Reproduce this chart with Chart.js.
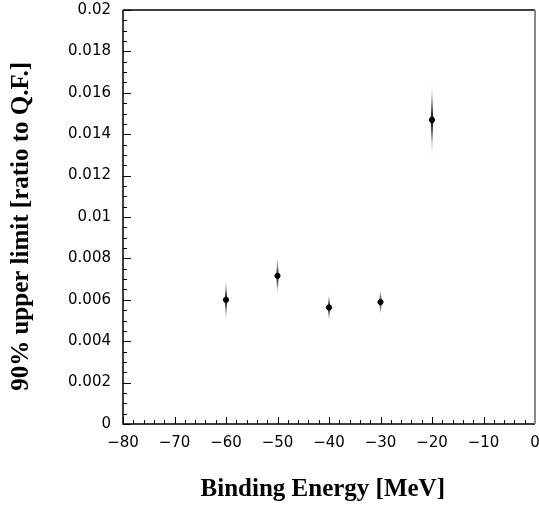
<!DOCTYPE html>
<html>
<head>
<meta charset="utf-8">
<script src="https://cdn.jsdelivr.net/npm/chart.js@4/dist/chart.umd.min.js"></script>
<style>
  html, body { margin: 0; padding: 0; background: #fff; }
  #wrap { width: 539px; height: 505px; }
</style>
</head>
<body>
<div id="wrap"><canvas id="limitChart" width="539" height="505"></canvas></div>
<script>
// Datos
const energias = [-60, -50, -40, -30, -20];
const limites = [0.0060, 0.00716, 0.00563, 0.00589, 0.01469];
const errores = [0.0010, 0.00092, 0.00068, 0.00063, 0.00179];

const xTicks = [-80, -70, -60, -50, -40, -30, -20, -10, 0];
const yTicks = [0, 0.002, 0.004, 0.006, 0.008, 0.01, 0.012, 0.014, 0.016, 0.018, 0.02];

const puntos = energias.map((e, i) => ({ x: e, y: limites[i] }));

// Barras de error con forma de huso y marcas de escala hacia dentro
const extras = {
  id: 'extras',
  beforeDatasetsDraw(chart) {
    const ctx = chart.ctx;
    const xs = chart.scales.x;
    const ys = chart.scales.y;
    ctx.save();
    energias.forEach((e, i) => {
      const px = xs.getPixelForValue(e);
      const py = ys.getPixelForValue(limites[i]);
      const top = ys.getPixelForValue(limites[i] + errores[i]);
      const bot = ys.getPixelForValue(limites[i] - errores[i]);
      const grad = ctx.createLinearGradient(0, top, 0, bot);
      grad.addColorStop(0, 'rgba(0,0,0,0.0)');
      grad.addColorStop(0.5, 'rgba(0,0,0,0.95)');
      grad.addColorStop(1, 'rgba(0,0,0,0.0)');
      ctx.fillStyle = grad;
      ctx.beginPath();
      ctx.moveTo(px, top);
      ctx.lineTo(px + 1.3, py);
      ctx.lineTo(px, bot);
      ctx.lineTo(px - 1.3, py);
      ctx.closePath();
      ctx.fill();
    });
    ctx.restore();
  },
  afterDraw(chart) {
    const ctx = chart.ctx;
    const { left, right, top, bottom } = chart.chartArea;
    const xs = chart.scales.x;
    const ys = chart.scales.y;
    ctx.save();
    ctx.strokeStyle = '#000';
    ctx.lineWidth = 1;
    ctx.beginPath();
    for (let v = -80; v <= 0; v += 2) {
      const p = Math.round(xs.getPixelForValue(v)) + 0.5;
      const len = (v % 10 === 0) ? 7 : 4;
      ctx.moveTo(p, bottom);
      ctx.lineTo(p, bottom - len);
    }
    for (let k = 0; k <= 40; k++) {
      const p = Math.round(ys.getPixelForValue(k * 0.0005)) + 0.5;
      const len = (k % 4 === 0) ? 8 : 4;
      ctx.moveTo(left, p);
      ctx.lineTo(left + len, p);
    }
    ctx.stroke();
    // marco
    ctx.lineWidth = 1.5;
    ctx.beginPath();
    ctx.moveTo(left, top);
    ctx.lineTo(right, top);
    ctx.moveTo(left, top);
    ctx.lineTo(left, bottom);
    ctx.lineTo(right, bottom);
    ctx.stroke();
    ctx.strokeStyle = '#888';
    ctx.lineWidth = 2;
    ctx.beginPath();
    ctx.moveTo(right, top);
    ctx.lineTo(right, bottom);
    ctx.stroke();
    ctx.restore();
  }
};

const ctx = document.getElementById('limitChart').getContext('2d');
new Chart(ctx, {
  type: 'scatter',
  data: {
    datasets: [{
      data: puntos,
      backgroundColor: '#000',
      borderColor: '#000',
      pointStyle: 'circle',
      pointRadius: 2.6,
      pointHoverRadius: 2.6
    }]
  },
  options: {
    responsive: false,
    animation: false,
    devicePixelRatio: 1,
    layout: { padding: { top: 10, right: 4, left: 0, bottom: 0 } },
    plugins: { legend: { display: false }, tooltip: { enabled: false } },
    scales: {
      x: {
        type: 'linear',
        min: -80,
        max: 0,
        afterBuildTicks: s => { s.ticks = xTicks.map(v => ({ value: v })); },
        afterFit: s => { s.height = 81; s.paddingLeft = 0; s.paddingRight = 0; },
        grid: { display: false, drawTicks: false },
        border: { display: false },
        ticks: {
          padding: 10,
          color: '#000',
          maxRotation: 0,
          font: { family: 'DejaVu Sans', size: 15 },
          callback: v => v < 0 ? '\u2212' + (-v) : String(v)
        },
        title: {
          display: true,
          text: 'Binding Energy [MeV]  ',
          color: '#000',
          padding: { top: 0, bottom: 0 },
          font: { family: 'Liberation Serif', size: 25, weight: 'bold', lineHeight: 1.2 }
        }
      },
      y: {
        min: 0,
        max: 0.02,
        afterBuildTicks: s => { s.ticks = yTicks.map(v => ({ value: v })); },
        afterFit: s => { s.width = 123; s.paddingTop = 0; s.paddingBottom = 0; },
        grid: { display: false, drawTicks: false },
        border: { display: false },
        ticks: {
          padding: 12,
          color: '#000',
          font: { family: 'DejaVu Sans', size: 15 },
          callback: v => parseFloat(Number(v).toFixed(4)).toString()
        },
        title: {
          display: true,
          text: '90% upper limit [ratio to Q.F.]   ',
          color: '#000',
          padding: { top: 7, bottom: 0 },
          font: { family: 'Liberation Serif', size: 25, weight: 'bold', lineHeight: 1.2 }
        }
      }
    }
  },
  plugins: [extras]
});
</script>
</body>
</html>
